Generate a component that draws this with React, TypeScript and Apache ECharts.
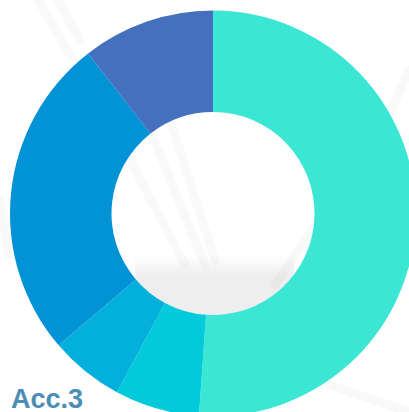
import React, { useEffect, useRef } from "react";
import * as echarts from "echarts";

const categories = ["A", "B", "C", "D", "E"];
const values = [51.1, 6.75, 5.9, 25.7, 10.55];
const colors = ["#3ce6d5", "#02cadb", "#02b0db", "#0292d6", "#4570bd"];
const labelText = "Acc.3";

export default function App() {
  const ref = useRef<HTMLDivElement>(null);
  useEffect(() => {
    document.body.style.margin = "0";
    const chart = echarts.init(ref.current!, null, { renderer: "svg" });
    const bgLine = (x1: number, y1: number, x2: number, y2: number, w = 9) => ({
      type: "line",
      z: -10,
      shape: { x1, y1, x2, y2 },
      style: { stroke: "rgba(0,0,0,0.025)", lineWidth: w, lineCap: "round" },
    });
    chart.setOption({
      animation: false,
      backgroundColor: "#ffffff",
      graphic: [
        {
          type: "rect",
          z: -11,
          shape: { x: 135, y: 255, width: 160, height: 70 },
          style: {
            fill: new echarts.graphic.LinearGradient(0, 0, 0, 1, [
              { offset: 0, color: "rgba(238,238,238,0)" },
              { offset: 0.3, color: "rgba(238,238,238,1)" },
              { offset: 1, color: "rgba(238,238,238,1)" },
            ]),
          },
        },
        bgLine(38, 0, 70, 55),
        bgLine(58, 0, 80, 40),
        bgLine(150, 130, 205, 265),
        bgLine(130, 160, 185, 265),
        bgLine(170, 120, 215, 260),
        bgLine(312, 230, 275, 285),
        bgLine(330, 385, 409, 412),
        bgLine(409, 70, 388, 118),
        bgLine(0, 200, 8, 255),
        {
          type: "text",
          x: 11,
          y: 399,
          style: {
            text: labelText,
            fill: "#4a8db5",
            fontSize: 27,
            lineHeight: 22,
            fontWeight: "bold",
            fontFamily: "'Liberation Sans', Arial, sans-serif",
            verticalAlign: "middle",
            align: "left",
          },
        },
      ],
      series: [
        {
          type: "pie",
          center: [213, 213.5],
          radius: [101.5, 203],
          startAngle: 90,
          clockwise: true,
          label: { show: false },
          labelLine: { show: false },
          emphasis: { disabled: true },
          data: categories.map((name, i) => ({
            name,
            value: values[i],
            itemStyle: { color: colors[i] },
          })),
        },
      ],
    });
    return () => chart.dispose();
  }, []);
  return <div ref={ref} style={{ width: 409, height: 412 }} />;
}
